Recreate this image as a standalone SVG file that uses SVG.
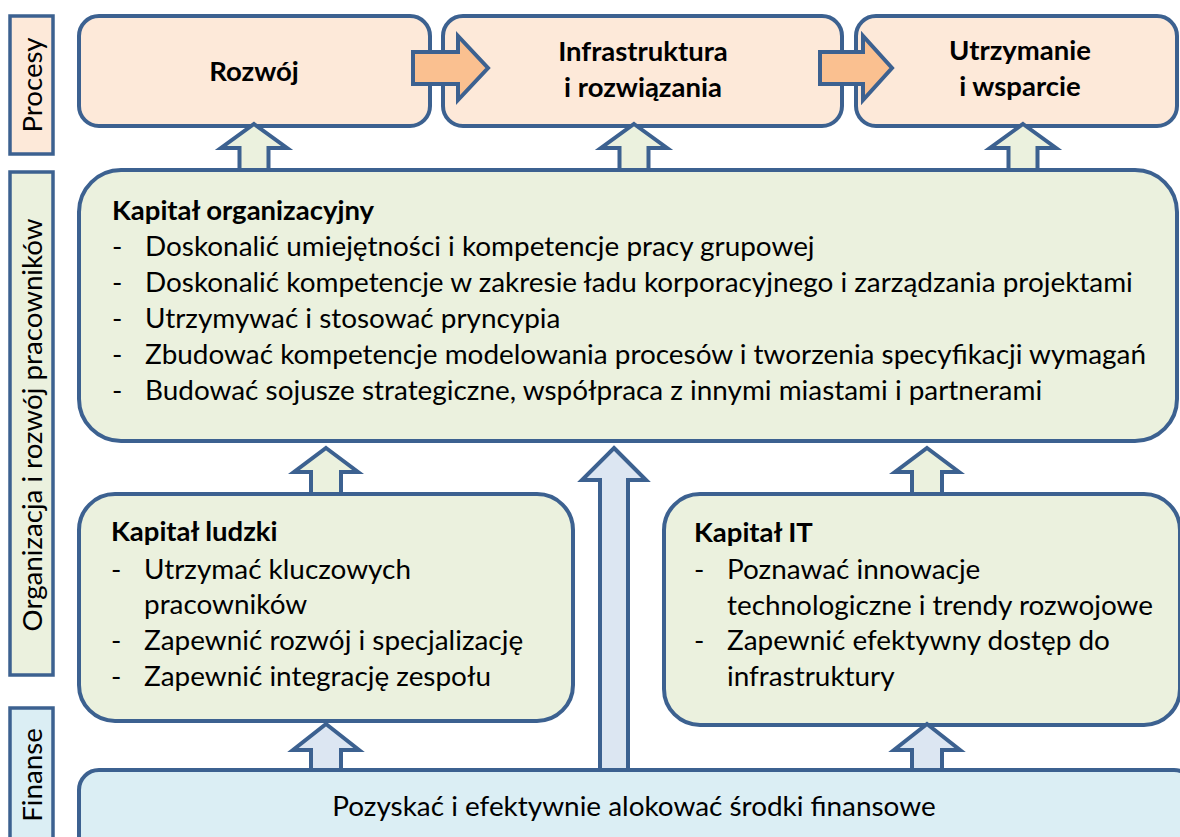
<svg xmlns="http://www.w3.org/2000/svg" width="1180" height="837" viewBox="0 0 1180 837">
<style>
.box{stroke:#3C6190;stroke-width:4}
.proc{fill:#FDE9D9}
.org{fill:#EBF1DE}
.fin{fill:#DBEEF4}
.lab{stroke:#3C6190;stroke-width:3.5}
.arr{stroke:#3C6190;stroke-width:4;stroke-linejoin:miter}
.ag{fill:#EBF1DE}
.ab{fill:#DCE6F2}
.ao{fill:#FAC090}
text{font-family:Lato,"Liberation Sans",sans-serif;fill:#000}
.t{font-size:27.9px}
.b{font-size:27.5px;font-weight:bold}
.v{font-size:27.7px}
</style>
<rect width="1180" height="837" fill="#fff"/>
<g id="label-procesy">
<rect class="lab proc" x="10" y="16" width="43" height="138"/>
<text class="v" transform="translate(42,85) rotate(-90)" text-anchor="middle">Procesy</text>
</g>
<g id="label-organizacja">
<rect class="lab org" x="10" y="172" width="43" height="503"/>
<text class="v" transform="translate(42,425) rotate(-90)" text-anchor="middle">Organizacja i rozwój pracowników</text>
</g>
<g id="label-finanse">
<rect class="lab fin" x="10" y="708" width="43" height="140"/>
<text class="v" transform="translate(42,775) rotate(-90)" text-anchor="middle">Finanse</text>
</g>
<g id="rozwoj">
<rect class="box proc" x="79" y="16" width="351" height="110" rx="20"/>
<text class="b" x="254" y="81" text-anchor="middle">Rozwój</text>
</g>
<g id="infrastruktura">
<rect class="box proc" x="443" y="16" width="399" height="110" rx="20"/>
<text class="b" x="643" y="61" text-anchor="middle">Infrastruktura</text>
<text class="b" x="643" y="97" text-anchor="middle">i rozwiązania</text>
</g>
<g id="utrzymanie">
<rect class="box proc" x="856" y="16" width="321" height="110" rx="20"/>
<text class="b" x="1020" y="60" text-anchor="middle">Utrzymanie</text>
<text class="b" x="1020" y="96" text-anchor="middle">i wsparcie</text>
</g>
<g id="kapital-organizacyjny">
<rect class="box org" x="79" y="170" width="1098" height="271" rx="42"/>
<text class="b" x="112" y="220">Kapitał organizacyjny</text>
<text class="t" x="112" y="256">-</text><text class="t" x="145" y="256">Doskonalić umiejętności i kompetencje pracy grupowej</text>
<text class="t" x="112" y="292">-</text><text class="t" x="145" y="292">Doskonalić kompetencje w zakresie ładu korporacyjnego i zarządzania projektami</text>
<text class="t" x="112" y="328">-</text><text class="t" x="145" y="328">Utrzymywać i stosować pryncypia</text>
<text class="t" x="112" y="364">-</text><text class="t" x="145" y="364">Zbudować kompetencje modelowania procesów i tworzenia specyfikacji wymagań</text>
<text class="t" x="112" y="400">-</text><text class="t" x="145" y="400">Budować sojusze strategiczne, współpraca z innymi miastami i partnerami</text>
</g>
<g id="kapital-ludzki">
<rect class="box org" x="79" y="494" width="494" height="227" rx="36"/>
<text class="b" x="111" y="541">Kapitał ludzki</text>
<text class="t" x="111" y="579">-</text><text class="t" x="144" y="579">Utrzymać kluczowych</text>
<text class="t" x="144" y="614">pracowników</text>
<text class="t" x="111" y="650">-</text><text class="t" x="144" y="650">Zapewnić rozwój i specjalizację</text>
<text class="t" x="111" y="686">-</text><text class="t" x="144" y="686">Zapewnić integrację zespołu</text>
</g>
<g id="kapital-it">
<rect class="box org" x="664" y="494" width="516" height="231" rx="36"/>
<text class="b" x="694" y="542">Kapitał IT</text>
<text class="t" x="694" y="579">-</text><text class="t" x="727" y="579">Poznawać innowacje</text>
<text class="t" x="727" y="615">technologiczne i trendy rozwojowe</text>
<text class="t" x="694" y="650">-</text><text class="t" x="727" y="650">Zapewnić efektywny dostęp do</text>
<text class="t" x="727" y="686">infrastruktury</text>
</g>
<g id="finanse">
<rect class="box fin" x="79" y="770" width="1115" height="100" rx="20"/>
<text class="t" x="634" y="816" text-anchor="middle">Pozyskać i efektywnie alokować środki finansowe</text>
</g>
<g id="connectors">
<path class="arr ao" d="M413,52 L458,52 L458,36 L488,68 L458,100 L458,84 L413,84 Z"/>
<path class="arr ao" d="M820,52 L863,52 L863,36 L892,68 L863,100 L863,84 L820,84 Z"/>
<path class="arr ag" d="M254,124 L287,148 L268.5,148 L268.5,170 L239.5,170 L239.5,148 L221,148 Z"/>
<path class="arr ag" d="M634,124 L667,148 L648.5,148 L648.5,170 L619.5,170 L619.5,148 L601,148 Z"/>
<path class="arr ag" d="M1023,124 L1056,148 L1037.5,148 L1037.5,170 L1008.5,170 L1008.5,148 L990,148 Z"/>
<path class="arr ag" d="M326,448 L358,472 L341,472 L341,494 L311,494 L311,472 L294,472 Z"/>
<path class="arr ag" d="M927,448 L959,472 L942,472 L942,494 L912,494 L912,472 L895,472 Z"/>
<path class="arr ab" d="M326,724 L359,750 L341,750 L341,770 L311,770 L311,750 L293,750 Z"/>
<path class="arr ab" d="M927,724 L960,750 L942,750 L942,770 L912,770 L912,750 L894,750 Z"/>
<path class="arr ab" d="M614,448 L646,480 L628,480 L628,770 L600,770 L600,480 L582,480 Z"/>
</g>
</svg>
